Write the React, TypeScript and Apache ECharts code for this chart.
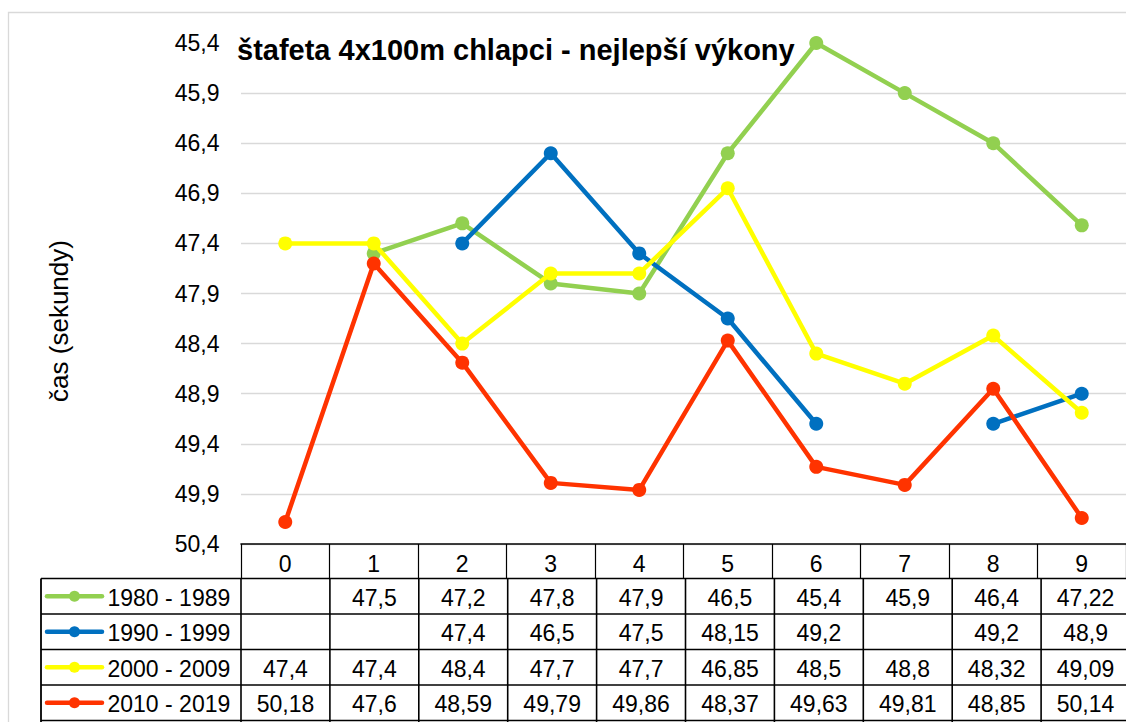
import React, { useEffect, useRef } from "react";
import * as echarts from "echarts";

const CATEGORIES = ["0", "1", "2", "3", "4", "5", "6", "7", "8", "9"];
const NAMES = ["1980 - 1989", "1990 - 1999", "2000 - 2009", "2010 - 2019"];
const S1980 = [null, 47.5, 47.2, 47.8, 47.9, 46.5, 45.4, 45.9, 46.4, 47.22];
const S1990 = [null, null, 47.4, 46.5, 47.5, 48.15, 49.2, null, 49.2, 48.9];
const S2000 = [47.4, 47.4, 48.4, 47.7, 47.7, 46.85, 48.5, 48.8, 48.32, 49.09];
const S2010 = [50.18, 47.6, 48.59, 49.79, 49.86, 48.37, 49.63, 49.81, 48.85, 50.14];
const COLORS = ["#92D050", "#0070C0", "#FFFF00", "#FF3300"];
const Y_MIN = 45.4;
const Y_MAX = 50.4;
const Y_STEP = 0.5;
const TITLE = "štafeta 4x100m chlapci - nejlepší výkony";
const Y_NAME = "čas (sekundy)";

const FONT = "'Liberation Sans', Arial, sans-serif";

// layout
const GRID_LEFT = 241;
const GRID_TOP = 43;
const GRID_W = 889;
const GRID_H = 501;
const COL_W = GRID_W / CATEGORIES.length;
const HEADER_BOTTOM = 578.5;
const ROW_H = 35.5;
const TABLE_LEFT = 41;

const fmt = (v: number | null) => (v == null ? "" : String(v).replace(".", ","));

export default function App() {
  const ref = useRef<HTMLDivElement>(null);
  useEffect(() => {
    if (!ref.current) return;
    const chart = echarts.init(ref.current, null, { renderer: "svg" });
    const all = [S1980, S1990, S2000, S2010];

    const graphics: any[] = [];
    // chart border
    graphics.push({
      type: "rect",
      silent: true,
      shape: { x: 8.5, y: 12.5, width: 1300, height: 900 },
      style: { fill: "none", stroke: "#d9d9d9", lineWidth: 1.3 },
    });
    // title
    graphics.push({
      type: "text",
      x: 237,
      y: 50,
      style: {
        text: TITLE,
        font: `bold 29px ${FONT}`,
        fill: "#000",
        textAlign: "left",
        textVerticalAlign: "middle",
      },
    });
    // y axis name
    graphics.push({
      type: "text",
      x: 59,
      y: 321,
      rotation: Math.PI / 2,
      style: {
        text: Y_NAME,
        font: `26px ${FONT}`,
        fill: "#000",
        textAlign: "center",
        textVerticalAlign: "middle",
      },
    });

    const nRows = NAMES.length;
    const tableBottom = HEADER_BOTTOM + ROW_H * nRows;
    const tableRight = GRID_LEFT + GRID_W;
    // horizontal lines
    for (let r = 0; r <= nRows; r++) {
      const y = HEADER_BOTTOM + ROW_H * r;
      graphics.push({
        type: "line",
        silent: true,
        shape: { x1: TABLE_LEFT, y1: y, x2: tableRight, y2: y },
        style: { stroke: "#000", lineWidth: 1.6 },
      });
    }
    // vertical lines
    graphics.push({
      type: "line",
      silent: true,
      shape: { x1: TABLE_LEFT, y1: HEADER_BOTTOM, x2: TABLE_LEFT, y2: tableBottom + 5 },
      style: { stroke: "#000", lineWidth: 1.8 },
    });
    for (let c = 0; c <= CATEGORIES.length; c++) {
      const x = GRID_LEFT + COL_W * c;
      graphics.push({
        type: "line",
        silent: true,
        shape: { x1: x, y1: HEADER_BOTTOM, x2: x, y2: tableBottom + 5 },
        style: { stroke: "#000", lineWidth: 1.6 },
      });
    }
    // rows
    for (let r = 0; r < nRows; r++) {
      const cy = HEADER_BOTTOM + ROW_H * r + ROW_H / 2;
      graphics.push({
        type: "line",
        silent: true,
        shape: { x1: 47, y1: cy, x2: 102, y2: cy },
        style: { stroke: COLORS[r], lineWidth: 4.5, lineCap: "round" },
      });
      graphics.push({
        type: "circle",
        silent: true,
        shape: { cx: 74.5, cy, r: 5.5 },
        style: { fill: COLORS[r] },
      });
      graphics.push({
        type: "text",
        x: 107.5,
        y: cy + 1.5,
        style: {
          text: NAMES[r],
          font: `23px ${FONT}`,
          fill: "#000",
          textAlign: "left",
          textVerticalAlign: "middle",
        },
      });
      all[r].forEach((v, i) => {
        if (v == null) return;
        graphics.push({
          type: "text",
          x: GRID_LEFT + COL_W * (i + 0.5),
          y: cy + 1.5,
          style: {
            text: fmt(v),
            font: `23px ${FONT}`,
            fill: "#000",
            textAlign: "center",
            textVerticalAlign: "middle",
          },
        });
      });
    }

    const nTicks = Math.round((Y_MAX - Y_MIN) / Y_STEP) + 1;
    const splitColors = Array.from({ length: nTicks }, (_, i) =>
      i === 0 ? "rgba(0,0,0,0)" : "#d9d9d9"
    );

    chart.setOption({
      animation: false,
      grid: { left: GRID_LEFT, top: GRID_TOP, width: GRID_W, height: GRID_H, containLabel: false },
      xAxis: {
        type: "category",
        position: "bottom",
        data: CATEGORIES,
        boundaryGap: true,
        axisLine: { show: true, onZero: false, lineStyle: { color: "#000", width: 1.6 } },
        axisTick: {
          show: true,
          alignWithLabel: false,
          interval: 0,
          length: HEADER_BOTTOM - GRID_TOP - GRID_H,
          lineStyle: { color: "#000", width: 1.2 },
        },
        axisLabel: {
          interval: 0,
          margin: 8,
          color: "#000",
          fontSize: 23,
          fontFamily: FONT,
        },
        splitLine: { show: false },
      },
      yAxis: {
        type: "value",
        inverse: true,
        min: 0,
        max: Y_MAX - Y_MIN,
        interval: Y_STEP,
        axisLine: { show: false },
        axisTick: { show: false },
        axisLabel: {
          margin: 21.5,
          color: "#000",
          fontSize: 23,
          fontFamily: FONT,
          formatter: (v: number) => (Y_MIN + v).toFixed(1).replace(".", ","),
        },
        splitLine: { show: true, lineStyle: { color: splitColors, width: 1.3 } },
      },
      series: all.map((arr, i) => ({
        name: NAMES[i],
        type: "line",
        data: arr.map((v) => (v == null ? null : v - Y_MIN)),
        connectNulls: false,
        clip: false,
        symbol: "circle",
        symbolSize: 14,
        showSymbol: true,
        lineStyle: { color: COLORS[i], width: 4.5 },
        itemStyle: { color: COLORS[i] },
        z: 2 + i,
      })),
      graphic: graphics,
    });
    return () => chart.dispose();
  }, []);
  return (
    <div
      ref={ref}
      style={{ position: "fixed", left: 0, top: 0, width: 1126, height: 722, background: "#fff" }}
    />
  );
}
